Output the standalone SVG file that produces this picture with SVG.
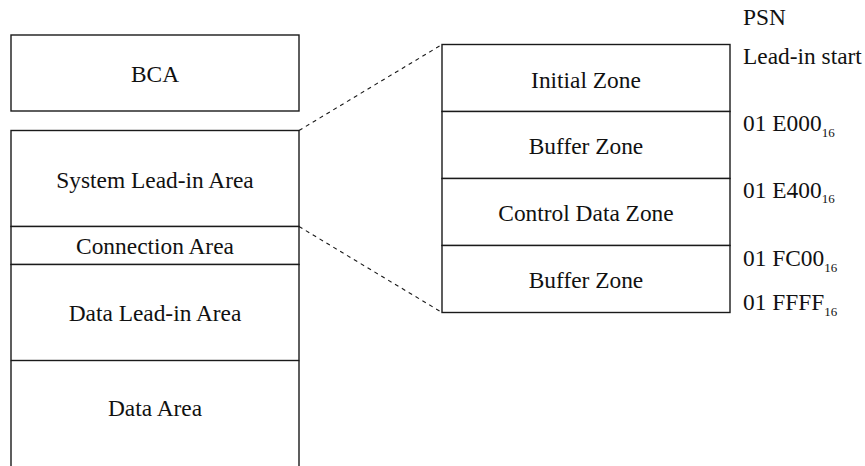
<svg xmlns="http://www.w3.org/2000/svg" width="865" height="466" viewBox="0 0 865 466">
  <style>
    .box { fill: #ffffff; stroke: #1a1a1a; stroke-width: 1.4; }
    .edge { fill: none; stroke: #1a1a1a; stroke-width: 1.4; }
    .zoom { fill: none; stroke: #1a1a1a; stroke-width: 1.1; stroke-dasharray: 4 4; }
    text { font-family: "Liberation Serif", "Times New Roman", serif; font-size: 23.4px; fill: #111111; }
    .c { text-anchor: middle; }
    .sub { font-size: 13px; }
  </style>
  <rect width="865" height="466" fill="#ffffff"/>

  <!-- left column: disc layout -->
  <g id="bca">
    <rect class="box" x="11" y="35" width="288" height="76"/>
    <text class="c" x="155" y="82">BCA</text>
  </g>
  <g id="system-lead-in">
    <rect class="box" x="11" y="130.5" width="288" height="96"/>
    <text class="c" x="155" y="188">System Lead-in Area</text>
  </g>
  <g id="connection-area">
    <rect class="box" x="11" y="226.5" width="288" height="38"/>
    <text class="c" x="155" y="253.5">Connection Area</text>
  </g>
  <g id="data-lead-in">
    <rect class="box" x="11" y="264.5" width="288" height="96"/>
    <text class="c" x="155" y="321">Data Lead-in Area</text>
  </g>
  <g id="data-area">
    <path class="edge" d="M11 360.5 V466 M299 360.5 V466"/>
    <text class="c" x="155" y="416">Data Area</text>
  </g>

  <!-- right column: system lead-in zones -->
  <g id="initial-zone">
    <rect class="box" x="442" y="44.5" width="288" height="67"/>
    <text class="c" x="586" y="87.5">Initial Zone</text>
  </g>
  <g id="buffer-zone-1">
    <rect class="box" x="442" y="111.5" width="288" height="67"/>
    <text class="c" x="586" y="154">Buffer Zone</text>
  </g>
  <g id="control-data-zone">
    <rect class="box" x="442" y="178.5" width="288" height="67"/>
    <text class="c" x="586" y="221">Control Data Zone</text>
  </g>
  <g id="buffer-zone-2">
    <rect class="box" x="442" y="245.5" width="288" height="67"/>
    <text class="c" x="586" y="287.5">Buffer Zone</text>
  </g>

  <!-- PSN labels -->
  <g id="psn-labels">
    <text x="743" y="25">PSN</text>
    <text x="743" y="63.5">Lead-in start</text>
    <text x="743" y="131">01 E000<tspan class="sub" dy="5.5">16</tspan></text>
    <text x="743" y="197.5">01 E400<tspan class="sub" dy="5.5">16</tspan></text>
    <text x="743" y="265.5">01 FC00<tspan class="sub" dy="6">16</tspan></text>
    <text x="743" y="310">01 FFFF<tspan class="sub" dy="6">16</tspan></text>
  </g>

  <!-- expansion connectors -->
  <g id="connectors">
    <line class="zoom" x1="299" y1="130.5" x2="442" y2="44.5"/>
    <line class="zoom" x1="299" y1="226.5" x2="442" y2="312.5"/>
  </g>
</svg>
